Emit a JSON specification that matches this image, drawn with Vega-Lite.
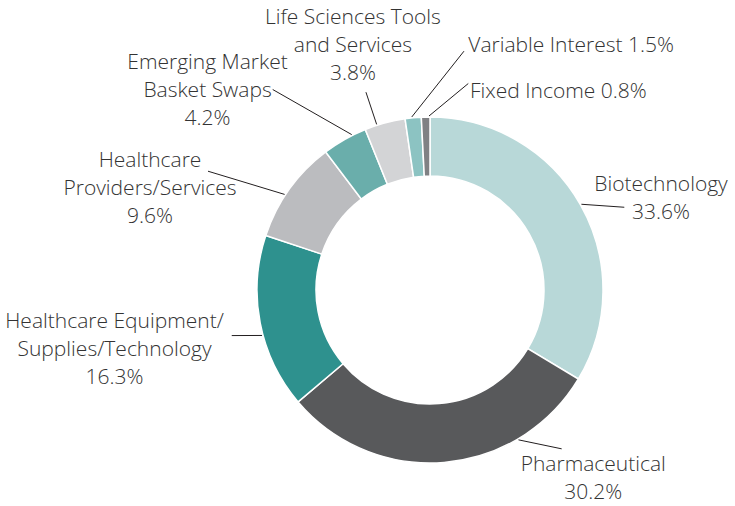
{
  "$schema": "https://vega.github.io/schema/vega-lite/v6.json",
  "width": 350,
  "height": 350,
  "autosize": {"type": "none"},
  "padding": {"left": 255, "top": 115, "right": 130, "bottom": 41},
  "background": "white",
  "config": {"view": {"stroke": null}},
  "params": [
    {
      "name": "lay",
      "value": {
        "Biotechnology": {"f": 0.5, "lx": 42.9, "ly": 3.0, "tx": 36.7, "ty": -22.0},
        "Pharmaceutical": {"f": 0.262, "lx": 43.2, "ly": 9.0, "tx": 31.6, "ty": 16.3},
        "Healthcare Equipment/Supplies/Technology": {"f": 0.429, "lx": -30.3, "ly": 0.1, "tx": -117.2, "ty": -14.0},
        "Healthcare Providers/Services": {"f": 0.433, "lx": -76.6, "ly": -23.2, "tx": -58.0, "ty": -10.5},
        "Emerging Market Basket Swaps": {"f": 0.684, "lx": -79.0, "ly": -45.1, "tx": -65.2, "ty": -26.3},
        "Life Sciences Tools and Services": {"f": 0.3, "lx": -10.7, "ly": -32.2, "tx": -13.0, "ty": -74.0},
        "Variable Interest": {"f": 0.42, "lx": 52.2, "ly": -65.8, "tx": 4.3, "ty": -5.4},
        "Fixed Income": {"f": 0.885, "lx": 39.3, "ly": -32.5, "tx": 1.7, "ty": 8.7}
      }
    }
  ],
  "data": {
    "values": [
      {"category": "Biotechnology", "label": "Biotechnology\n33.6%", "value": 33.6},
      {"category": "Pharmaceutical", "label": "Pharmaceutical\n30.2%", "value": 30.2},
      {"category": "Healthcare Equipment/Supplies/Technology", "label": "Healthcare Equipment/\nSupplies/Technology\n16.3%", "value": 16.3},
      {"category": "Healthcare Providers/Services", "label": "Healthcare\nProviders/Services\n9.6%", "value": 9.6},
      {"category": "Emerging Market Basket Swaps", "label": "Emerging Market\nBasket Swaps\n4.2%", "value": 4.2},
      {"category": "Life Sciences Tools and Services", "label": "Life Sciences Tools\nand Services\n3.8%", "value": 3.8},
      {"category": "Variable Interest", "label": "Variable Interest 1.5%", "value": 1.5},
      {"category": "Fixed Income", "label": "Fixed Income 0.8%", "value": 0.8}
    ]
  },
  "transform": [
    {"window": [{"op": "sum", "field": "value", "as": "cum"}], "sort": [{"field": "value", "order": "descending"}], "frame": [null, 0]},
    {"calculate": "(datum.cum - datum.value + lay[datum.category].f * datum.value) / 100 * 2 * PI", "as": "ang"},
    {"calculate": "174 * sin(datum.ang)", "as": "sx"},
    {"calculate": "174 * cos(datum.ang)", "as": "sy"},
    {"calculate": "datum.sx + lay[datum.category].lx", "as": "ex"},
    {"calculate": "datum.sy - lay[datum.category].ly", "as": "ey"},
    {"calculate": "datum.ex + lay[datum.category].tx", "as": "lblx"},
    {"calculate": "datum.ey - lay[datum.category].ty", "as": "lbly"}
  ],
  "layer": [
    {
      "mark": {"type": "arc", "innerRadius": 114, "outerRadius": 173, "stroke": "white", "strokeWidth": 1.5},
      "encoding": {
        "theta": {"field": "value", "type": "quantitative", "stack": true, "scale": {"domain": [0, 100]}},
        "order": {"field": "value", "type": "quantitative", "sort": "descending"},
        "color": {
          "field": "category",
          "type": "nominal",
          "legend": null,
          "scale": {
            "domain": ["Biotechnology", "Pharmaceutical", "Healthcare Equipment/Supplies/Technology", "Healthcare Providers/Services", "Emerging Market Basket Swaps", "Life Sciences Tools and Services", "Variable Interest", "Fixed Income"],
            "range": ["#b8d8d8", "#58595b", "#2e918e", "#bbbcbf", "#6aaeab", "#d3d4d6", "#8cc3c2", "#808184"]
          }
        }
      }
    },
    {
      "mark": {"type": "rule", "color": "#231f20", "strokeWidth": 1},
      "encoding": {
        "x": {"field": "sx", "type": "quantitative", "axis": null, "scale": {"domain": [-175, 175], "nice": false, "zero": false}},
        "y": {"field": "sy", "type": "quantitative", "axis": null, "scale": {"domain": [-175, 175], "nice": false, "zero": false}},
        "x2": {"field": "ex"},
        "y2": {"field": "ey"}
      }
    },
    {
      "transform": [{"filter": "datum.category != 'Variable Interest' && datum.category != 'Fixed Income'"}],
      "mark": {"type": "text", "align": "center", "baseline": "middle", "lineBreak": "\n", "lineHeight": 28, "fontSize": 21, "font": "Open Sans", "fontWeight": 300, "color": "#333333"},
      "encoding": {
        "x": {"field": "lblx", "type": "quantitative", "axis": null, "scale": {"domain": [-175, 175], "nice": false, "zero": false}},
        "y": {"field": "lbly", "type": "quantitative", "axis": null, "scale": {"domain": [-175, 175], "nice": false, "zero": false}},
        "text": {"field": "label", "type": "nominal"}
      }
    },
    {
      "transform": [{"filter": "datum.category == 'Variable Interest' || datum.category == 'Fixed Income'"}],
      "mark": {"type": "text", "align": "left", "baseline": "middle", "lineBreak": "\n", "lineHeight": 28, "fontSize": 21, "font": "Open Sans", "fontWeight": 300, "color": "#333333"},
      "encoding": {
        "x": {"field": "lblx", "type": "quantitative", "axis": null, "scale": {"domain": [-175, 175], "nice": false, "zero": false}},
        "y": {"field": "lbly", "type": "quantitative", "axis": null, "scale": {"domain": [-175, 175], "nice": false, "zero": false}},
        "text": {"field": "label", "type": "nominal"}
      }
    }
  ]
}
